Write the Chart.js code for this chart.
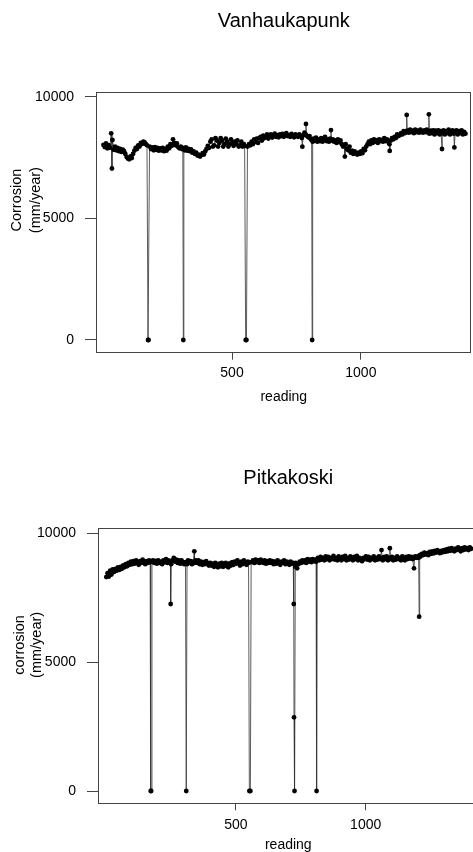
<!DOCTYPE html>
<html>
<head>
<meta charset="utf-8">
<title>Corrosion readings</title>
<script src="https://cdn.jsdelivr.net/npm/chart.js@4.4.0/dist/chart.umd.min.js"></script>
<style>
  html, body { margin: 0; padding: 0; background: #fff; overflow: hidden; }
  #page { position: relative; width: 473px; height: 852px; overflow: hidden; }
  #top-chart { position: absolute; left: 0; top: 0; }
  #bottom-chart { position: absolute; left: 0; top: 430px; }
</style>
</head>
<body>
<div id="page">
  <canvas id="top-chart" width="473" height="420"></canvas>
  <canvas id="bottom-chart" width="480" height="430"></canvas>
</div>
<script>
// Vanhaukapunk: reading number and corrosion value (mm/year)
const vanReading = [
  1, 6, 11, 16, 21, 26, 31, 34, 36, 41, 46,
  51, 56, 61, 66, 71, 76, 81, 86, 91, 96,
  101, 106, 111, 116, 121, 126, 131, 136, 141, 146,
  151, 156, 161, 166, 170, 174, 176, 180, 186, 191, 196,
  201, 206, 211, 216, 221, 226, 231, 236, 241, 246,
  251, 256, 261, 266, 271, 276, 281, 286, 291, 296,
  301, 306, 309, 311, 313, 316, 321, 326, 331, 336, 341, 346,
  351, 356, 361, 366, 371, 376, 381, 386, 391, 396,
  401, 406, 411, 416, 421, 426, 431, 436, 441, 446,
  451, 456, 461, 466, 471, 476, 481, 486, 491, 496,
  501, 506, 511, 516, 521, 526, 531, 536, 541, 546,
  549, 553, 556, 560, 566, 571, 576, 581, 586, 591, 596,
  601, 606, 611, 616, 621, 626, 631, 636, 641, 646,
  651, 656, 661, 666, 671, 676, 681, 686, 691, 696,
  701, 706, 711, 716, 721, 726, 731, 736, 741, 746,
  751, 756, 761, 766, 771, 773, 776, 781, 786, 787, 789, 796,
  801, 806, 809, 811, 813, 816, 821, 826, 831, 836, 841, 846,
  851, 856, 861, 866, 871, 876, 881, 884, 886, 891, 896,
  901, 906, 911, 916, 921, 926, 931, 936, 938, 941, 946,
  951, 956, 961, 966, 971, 976, 981, 986, 991, 996,
  1001, 1006, 1011, 1016, 1021, 1026, 1031, 1036, 1041, 1046,
  1051, 1056, 1061, 1066, 1071, 1076, 1081, 1086, 1091, 1096,
  1101, 1106, 1111, 1112, 1116, 1121, 1126, 1131, 1136, 1141, 1146,
  1151, 1156, 1161, 1166, 1171, 1176, 1178, 1180, 1186, 1191, 1196,
  1201, 1206, 1211, 1216, 1221, 1226, 1231, 1236, 1241, 1246,
  1251, 1256, 1261, 1264, 1266, 1271, 1276, 1281, 1286, 1291, 1296,
  1301, 1306, 1311, 1315, 1316, 1321, 1326, 1331, 1336, 1341, 1346,
  1351, 1356, 1361, 1363, 1366, 1371, 1376, 1381, 1386, 1391, 1396,
  1401, 1406
];
const vanCorrosion = [
  8020, 7930, 8080, 7880, 8010, 7900, 8495, 7050, 8220, 7820, 7950,
  7800, 7900, 7760, 7850, 7730, 7820, 7760, 7650, 7520, 7460,
  7430, 7550, 7480, 7650, 7780, 7900, 7850, 8000, 7950, 8100,
  8060, 8150, 8120, 8050, 8000, 0, 0, 7950, 7850, 7920, 7800,
  7930, 7820, 7900, 7780, 7880, 7800, 7900, 7760, 7850, 7780,
  7950, 7880, 8050, 7980, 8250, 8100, 8000, 8080, 7930, 7880,
  7950, 7850, 7900, 0, 7880, 7800, 7920, 7780, 7850, 7760, 7830, 7700,
  7750, 7650, 7700, 7580, 7620, 7540, 7600, 7680, 7620, 7750,
  7850, 7980, 7900, 8150, 8250, 7950, 8000, 8300, 8200, 7950,
  8100, 8300, 8200, 7950, 8050, 8280, 8150, 7950, 8050, 8250,
  8100, 7980, 8150, 8050, 8200, 7950, 8000, 8150, 7950, 8050,
  7980, 0, 0, 7950, 8050, 8000, 8150, 8050, 8250, 8150, 8280,
  8100, 8300, 8350, 8200, 8400, 8300, 8350, 8450, 8280, 8400,
  8450, 8320, 8400, 8480, 8350, 8420, 8330, 8450, 8380, 8470,
  8350, 8430, 8500, 8380, 8420, 8350, 8470, 8400, 8330, 8450,
  8400, 8350, 8450, 8380, 8300, 7945, 8420, 8520, 8450, 8880, 8400, 8330,
  8380, 8250, 8220, 0, 8150, 8280, 8200, 8320, 8150, 8250, 8180, 8300,
  8150, 8250, 8350, 8180, 8250, 8150, 8280, 8630, 8200, 8250, 8150,
  8200, 8100, 8250, 8150, 8200, 8050, 7950, 8000, 7540, 8050, 7850,
  7800, 7950, 7700, 7780, 7650, 7750, 7680, 7620, 7700, 7650,
  7750, 7680, 7850, 7800, 7950, 8050, 8150, 8050, 8200, 8100,
  8250, 8150, 8200, 8100, 8250, 8180, 8220, 8150, 8300, 8180,
  8250, 8150, 8050, 7770, 8200, 8300, 8250, 8350, 8300, 8450, 8380,
  8420, 8500, 8450, 8580, 8500, 8550, 9250, 8600, 8520, 8650, 8550,
  8600, 8500, 8650, 8550, 8600, 8520, 8650, 8580, 8520, 8620,
  8550, 8650, 8520, 9275, 8480, 8600, 8500, 8620, 8450, 8600, 8500,
  8620, 8450, 8580, 7850, 8500, 8620, 8450, 8580, 8500, 8650, 8450,
  8550, 8620, 8480, 7915, 8550, 8620, 8450, 8580, 8500, 8620, 8450,
  8550, 8480
];

// Pitkakoski: reading number and corrosion value (mm/year)
const pitReading = [
  1, 6, 11, 16, 21, 26, 31, 36, 41, 46,
  51, 56, 61, 66, 71, 76, 81, 86, 91, 96,
  101, 106, 111, 116, 121, 126, 131, 136, 141, 146,
  151, 156, 161, 166, 170, 172, 174, 177, 181, 186, 191, 196,
  201, 206, 211, 216, 221, 226, 231, 236, 241, 246,
  248, 249, 251, 256, 261, 266, 271, 276, 281, 286, 291, 296,
  301, 306, 309, 312, 316, 321, 326, 331, 336, 340, 341, 346,
  351, 356, 361, 366, 371, 376, 381, 386, 391, 396,
  401, 406, 411, 416, 421, 426, 431, 436, 441, 446,
  451, 456, 461, 466, 471, 476, 481, 486, 491, 496,
  501, 506, 511, 516, 521, 526, 531, 536, 541, 546,
  549, 552, 556, 559, 566, 571, 576, 581, 586, 591, 596,
  601, 606, 611, 616, 621, 626, 631, 636, 641, 646,
  651, 656, 661, 666, 671, 676, 681, 686, 691, 696,
  701, 706, 711, 716, 721, 723, 724, 726, 729, 731, 736, 741, 746,
  751, 756, 761, 766, 771, 776, 781, 786, 791, 796,
  801, 806, 809, 811, 813, 816, 821, 826, 831, 836, 841, 846,
  851, 856, 861, 866, 871, 876, 881, 886, 891, 896,
  901, 906, 911, 916, 921, 926, 931, 936, 941, 946,
  951, 956, 961, 966, 971, 976, 981, 986, 991, 996,
  1001, 1006, 1011, 1016, 1021, 1026, 1031, 1036, 1041, 1046,
  1051, 1056, 1061, 1063, 1066, 1071, 1076, 1081, 1086, 1091, 1093, 1096,
  1101, 1106, 1111, 1116, 1121, 1126, 1131, 1136, 1141, 1146,
  1151, 1156, 1161, 1166, 1171, 1176, 1181, 1186, 1188, 1191, 1196,
  1201, 1204, 1206, 1208, 1211, 1216, 1221, 1226, 1231, 1236, 1241, 1246,
  1251, 1256, 1261, 1266, 1271, 1276, 1281, 1286, 1291, 1296,
  1301, 1306, 1311, 1316, 1321, 1326, 1331, 1336, 1341, 1346,
  1351, 1356, 1361, 1366, 1371, 1376, 1381, 1386, 1391, 1396,
  1401, 1406
];
const pitCorrosion = [
  8300, 8450, 8320, 8550, 8400, 8600, 8500, 8620, 8550, 8680,
  8580, 8700, 8620, 8750, 8680, 8800, 8720, 8850, 8780, 8900,
  8800, 8920, 8820, 8950, 8850, 8780, 8920, 8850, 8980, 8880,
  8800, 8920, 8850, 8950, 8880, 0, 0, 8900, 8950, 8850, 8930, 8820,
  8950, 8850, 8900, 8800, 8950, 8880, 9000, 8850, 8950, 8880,
  8850, 7257, 8800, 8950, 9050, 8900, 8980, 8850, 8950, 8820, 8950, 8850,
  8800, 8880, 0, 8800, 8950, 8850, 8920, 8800, 8900, 9300, 8850, 8950,
  8850, 8950, 8800, 8900, 8780, 8880, 8800, 8920, 8820, 8750,
  8850, 8750, 8820, 8700, 8850, 8750, 8680, 8820, 8720, 8850,
  8700, 8800, 8850, 8720, 8680, 8830, 8750, 8880, 8780, 8900,
  8820, 8950, 8850, 8750, 8900, 8800, 8950, 8850, 8780, 8900,
  8850, 0, 0, 8880, 8950, 8850, 8980, 8880, 8950, 8850, 8980,
  8900, 8850, 8950, 8820, 8920, 8850, 8950, 8850, 8920, 8800,
  8900, 8820, 8950, 8850, 8780, 8900, 8850, 8950, 8800, 8900,
  8850, 8780, 8900, 8820, 8850, 7257, 2860, 0, 8700, 8850, 8640, 8800, 8900,
  8850, 8950, 8880, 8950, 8850, 9000, 8900, 8980, 8880, 9000,
  8920, 8980, 8900, 0, 8950, 9050, 8950, 9080, 8980, 9050, 8950, 9100,
  9000, 9080, 8950, 9050, 9000, 9120, 8980, 9050, 8950, 9100,
  9020, 8950, 9080, 9000, 9120, 8950, 9050, 8980, 9100, 9000,
  8950, 9080, 9000, 9120, 8950, 9050, 8980, 8920, 9050, 9000,
  9100, 8980, 9080, 8950, 9050, 9000, 9100, 8950, 9050, 8980,
  9100, 9000, 9350, 9050, 8950, 9080, 9000, 9100, 8950, 9050, 9420, 9000,
  9080, 8950, 9050, 8980, 9100, 9000, 9050, 8950, 9100, 9020,
  8950, 9080, 9000, 9100, 9020, 9080, 9000, 8640, 9050, 9100, 9050,
  9100, 9050, 6764, 9150, 9100, 9200, 9150, 9250, 9180, 9220, 9150, 9280,
  9200, 9300, 9220, 9320, 9250, 9350, 9280, 9230, 9320, 9260,
  9350, 9280, 9380, 9300, 9400, 9320, 9420, 9350, 9300, 9400,
  9350, 9450, 9380, 9300, 9420, 9350, 9450, 9380, 9420, 9350,
  9450, 9400
];

const xTicks = [500, 1000];
const yTicks = [0, 5000, 10000];

Chart.defaults.font.family = '"Liberation Sans", Arial, sans-serif';
Chart.defaults.color = '#000';

// draws the full box round the plot region
const framePlugin = {
  id: 'frame',
  afterDraw(chart) {
    const a = chart.chartArea;
    const ctx = chart.ctx;
    ctx.save();
    ctx.strokeStyle = '#444';
    ctx.lineWidth = 1;
    ctx.strokeRect(Math.round(a.left) - 0.5, Math.round(a.top) + 0.5,
                   Math.round(a.right - a.left), Math.round(a.bottom - a.top));
    ctx.restore();
  }
};

// two-line rotated y axis label
const yLabelPlugin = {
  id: 'yLabel',
  afterDraw(chart, args, opts) {
    const a = chart.chartArea;
    const ctx = chart.ctx;
    const cy = a.top + (a.bottom - a.top) * opts.frac;
    ctx.save();
    ctx.fillStyle = '#000';
    ctx.font = '14.5px "Liberation Sans", Arial, sans-serif';
    ctx.textAlign = 'center';
    ctx.textBaseline = 'middle';
    opts.lines.forEach((line, i) => {
      ctx.save();
      ctx.translate(opts.x[i], cy);
      ctx.rotate(-Math.PI / 2);
      ctx.fillText(line, 0, 0);
      ctx.restore();
    });
    ctx.restore();
  }
};

function makeChart(id, title, yLabel, readings, values, box) {
  const points = readings.map((r, i) => ({ x: r, y: values[i] }));
  return new Chart(document.getElementById(id), {
    type: 'line',
    data: {
      datasets: [{
        data: points,
        borderColor: '#333',
        borderWidth: 0.8,
        pointRadius: 2.4,
        pointHoverRadius: 2.4,
        pointBackgroundColor: '#000',
        pointBorderWidth: 0,
        tension: 0
      }]
    },
    options: {
      responsive: false,
      animation: false,
      events: [],
      layout: { padding: { left: 0, right: box.padRight, top: 0, bottom: 0 } },
      plugins: {
        legend: { display: false },
        tooltip: { enabled: false },
        title: {
          display: true,
          text: title,
          fullSize: false,
          color: '#000',
          font: { size: 20, weight: 'normal' },
          padding: { top: box.titleTop, bottom: box.titleBottom }
        },
        yLabel: { lines: yLabel, x: box.yLabelX, frac: box.yLabelFrac }
      },
      scales: {
        x: {
          type: 'linear',
          min: box.xMin,
          max: box.xMax,
          afterBuildTicks: s => { s.ticks = xTicks.map(v => ({ value: v })); },
          afterFit: s => { s.height = box.xHeight; },
          grid: { drawOnChartArea: false, tickLength: 7, color: '#444' },
          border: { display: false },
          ticks: { padding: box.xTickPad, maxRotation: 0, font: { size: 14 }, callback: v => String(v) },
          title: { display: true, text: 'reading', font: { size: 14 }, padding: { top: 0, bottom: box.xTitlePad } }
        },
        y: {
          type: 'linear',
          min: box.yMin,
          max: box.yMax,
          afterBuildTicks: s => { s.ticks = yTicks.map(v => ({ value: v })); },
          afterFit: s => { s.width = box.yWidth; },
          grid: { drawOnChartArea: false, tickLength: 12, color: '#444' },
          border: { display: false },
          ticks: { padding: 11, font: { size: 14 }, callback: v => String(v) }
        }
      }
    },
    plugins: [framePlugin, yLabelPlugin]
  });
}

makeChart('top-chart', 'Vanhaukapunk', ['Corrosion', '(mm/year)'], vanReading, vanCorrosion, {
  xMin: -24, xMax: 1426, yMin: -522, yMax: 10181,
  padRight: 1, yWidth: 97, xHeight: 67.3,
  titleTop: 9.4, titleBottom: 58.9,
  xTickPad: 5, xTitlePad: 14.9,
  yLabelX: [17, 36], yLabelFrac: 0.414
});

makeChart('bottom-chart', 'Pitkakoski', ['corrosion', '(mm/year)'], pitReading, pitCorrosion, {
  xMin: -27, xMax: 1431, yMin: -477, yMax: 10194,
  padRight: 0, yWidth: 99, xHeight: 56.7,
  titleTop: 36.1, titleBottom: 38.2,
  xTickPad: 6, xTitlePad: 6.6,
  yLabelX: [20, 37], yLabelFrac: 0.424
});
</script>
</body>
</html>
